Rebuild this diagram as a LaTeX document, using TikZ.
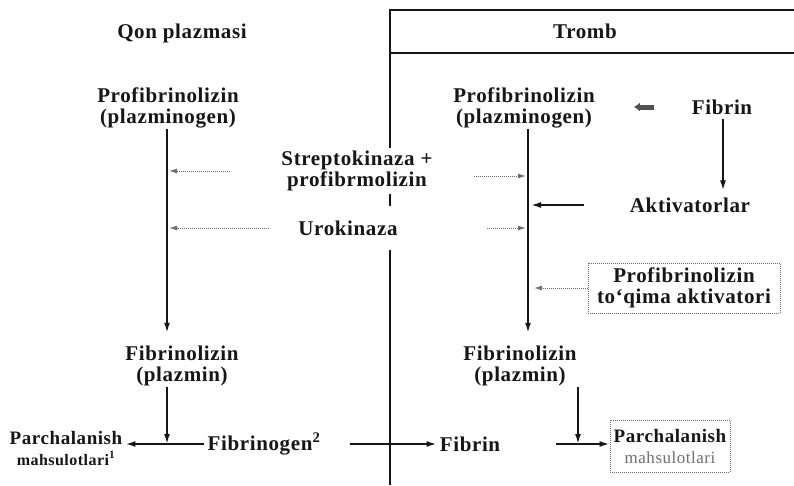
\documentclass[tikz,border=0pt]{standalone}
\usepackage{fontspec}
\setmainfont{Liberation Serif}[LetterSpace=3]
\usepackage{xcolor}
\usepackage{tikz}
\usetikzlibrary{positioning, arrows.meta}
\definecolor{inkblack}{HTML}{161616}
\definecolor{scangray}{HTML}{6E6E6E}

\begin{document}
\begin{tikzpicture}[x=1pt, y=-1pt,
  lbl/.style={align=center, inner sep=1pt, text=inkblack,
              font=\fontsize{21}{21}\selectfont\bfseries},
  arr/.style={draw=inkblack, line width=1.8pt, -{Latex[length=10pt, width=6pt]}},
  faint/.style={draw=scangray, densely dotted, line width=1pt,
                -{Latex[length=8pt, width=5pt]}},
  frame/.style={draw=inkblack, line width=2.4pt},
  dotbox/.style={draw=scangray, densely dotted, line width=1pt}]
  \useasboundingbox (0,0) rectangle (794,485);

  % tromb frame
  \draw[frame] (390,148) -- (390,10) -- (794,10);
  \draw[frame] (390,53) -- (794,53);
  \draw[frame] (390,194) -- (390,206);
  \draw[frame] (390,250) -- (390,485);

  % headings
  \node[lbl] (qon) at (182,33) {Qon plazmasi};
  \node[lbl] (tromb) at (585,31) {Tromb};

  % plasma column
  \node[lbl] (plgL) at (168,108) {Profibrinolizin\\(plazminogen)};
  \node[lbl] (fblL) at (182,366) {Fibrinolizin\\(plazmin)};
  \node[lbl, font=\fontsize{19}{21}\selectfont\bfseries] (parL) at (66,448)
    {Parchalanish\\{\fontsize{16}{18}\selectfont mahsulotlari\textsuperscript{1}}};
  \node[lbl] (fbg) at (264,444) {Fibrinogen\textsuperscript{2}};

  % activators in the middle
  \node[lbl] (strep) at (357,171) {Streptokinaza +\\profibrmolizin};
  \node[lbl] (uro) at (348,228) {Urokinaza};

  % thrombus column
  \node[lbl] (plgR) at (524,108) {Profibrinolizin\\(plazminogen)};
  \node[lbl] (fibrinT) at (722,107) {Fibrin};
  \node[lbl] (aktiv) at (690,205) {Aktivatorlar};
  \node[lbl, dotbox, minimum width=192pt, minimum height=50pt]
    (tpa) at (684,288) {Profibrinolizin\\to`qima aktivatori};
  \node[lbl] (fblR) at (520,366) {Fibrinolizin\\(plazmin)};
  \node[lbl] (fibrinB) at (470,444) {Fibrin};
  \node[lbl, dotbox, font=\fontsize{19}{21}\selectfont\bfseries,
        minimum width=120pt, minimum height=52pt, inner sep=2pt]
    (parR) at (670,446) {Parchalanish\\{\color{scangray}\fontsize{17}{19}\selectfont\mdseries mahsulotlari}};

  \coordinate (colL) at (167,0);
  \coordinate (colR) at (528,0);
  \coordinate (jR) at (578,0);
  \coordinate (fibX) at (723,0);

  % plasma arrows
  \draw[arr, shorten >=12pt] (plgL.south -| colL) -- (fblL.north -| colL);
  \draw[arr] (fblL.south -| colL) -- (fbg.west -| colL);
  \draw[arr, shorten <=2pt, shorten >=2pt] (fbg.west) -- (parL.east |- fbg.west);
  \draw[faint, shorten <=50pt, shorten >=2pt] (strep.west) -- (strep.west -| colL);
  \draw[faint, shorten <=28pt, shorten >=2pt] (uro.west) -- (uro.west -| colL);

  % thrombus arrows
  \draw[arr, shorten >=12pt] (plgR.south -| colR) -- (fblR.north -| colR);
  \draw[faint, shorten <=40pt, shorten >=2pt] ([yshift=-5pt]strep.east) -- ([yshift=-5pt]strep.east -| colR);
  \draw[faint, shorten <=88pt, shorten >=2pt] (uro.east) -- (uro.east -| colR);
  \draw[line width=5pt, draw=inkblack!75, shorten <=37pt, shorten >=38pt,
        -{Latex[length=6pt, width=9pt]}] (fibrinT.west) -- (plgR.east |- fibrinT.west);
  \draw[arr, shorten <=3pt, shorten >=6pt] (fibrinT.south -| fibX) -- (aktiv.north -| fibX);
  \draw[arr, shorten <=45pt, shorten >=3pt] (aktiv.west) -- (aktiv.west -| colR);
  \draw[faint, shorten >=6pt] (tpa.west) -- (tpa.west -| colR);
  \draw[arr, shorten <=28pt, shorten >=2pt] (fbg.east) -- (fibrinB.west);
  \draw[arr, shorten <=55pt] (fibrinB.east) -- (fibrinB.east -| parR.west);
  \draw[arr] (fblR.south -| jR) -- (fibrinB.east -| jR);
\end{tikzpicture}
\end{document}
